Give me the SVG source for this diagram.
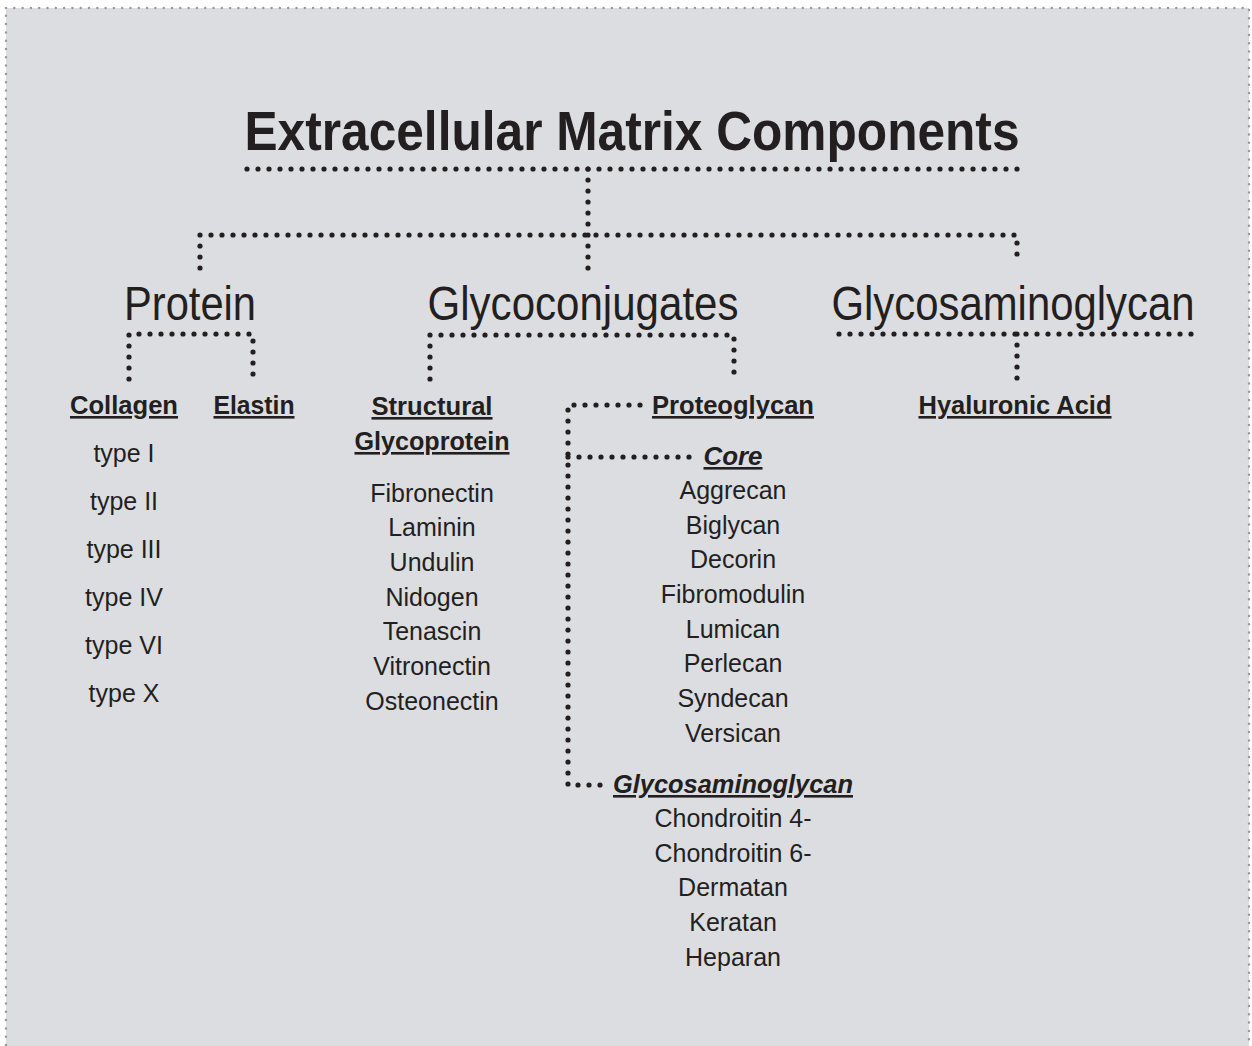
<svg xmlns="http://www.w3.org/2000/svg" width="1252" height="1046" viewBox="0 0 1252 1046">
<style>
text{font-family:"Liberation Sans","Arial",sans-serif;fill:#231f20;text-anchor:middle}
.t{font-weight:bold;font-size:55px}
.c{font-size:48px}
.h{font-weight:bold;font-size:26px;text-decoration:underline}
.hi{font-weight:bold;font-style:italic;font-size:26px;text-decoration:underline}
.i{font-size:25px}
.dot{fill:none;stroke:#231f20;stroke-width:5.2;stroke-linecap:round;stroke-dasharray:0 11}
</style>
<rect x="0" y="0" width="1252" height="1046" fill="#ffffff"/>
<rect x="6" y="8" width="1243" height="1060" fill="#dcdde0" stroke="#9a9a9a" stroke-width="2.5" stroke-linecap="round" stroke-dasharray="0 8.3"/>
<g id="connectors">
<path class="dot" d="M247 169 H1020"/>
<path class="dot" d="M588 169 V274"/>
<path class="dot" d="M200 268 V235 H1017 V265"/>
<path class="dot" d="M129 379 V334 H253 V378"/>
<path class="dot" d="M430 379 V335 H734 V378"/>
<path class="dot" d="M640 405 H568 V785 H603"/>
<path class="dot" d="M568 457 H695"/>
<path class="dot" d="M839 334 H1194"/>
<path class="dot" d="M1017 334 V382"/>
</g>
<g id="title"><text class="t" x="632" y="150" textLength="775" lengthAdjust="spacingAndGlyphs">Extracellular Matrix Components</text></g>
<g id="protein"><text class="c" x="190" y="320" textLength="132" lengthAdjust="spacingAndGlyphs">Protein</text></g>
<g id="glycoconjugates"><text class="c" x="583" y="320" textLength="311" lengthAdjust="spacingAndGlyphs">Glycoconjugates</text></g>
<g id="glycosaminoglycan"><text class="c" x="1013" y="320" textLength="363" lengthAdjust="spacingAndGlyphs">Glycosaminoglycan</text></g>
<g id="collagen">
<text class="h" x="124" y="414" textLength="108" lengthAdjust="spacingAndGlyphs">Collagen</text>
<text class="i" x="124" y="462">type I</text>
<text class="i" x="124" y="510">type II</text>
<text class="i" x="124" y="558">type III</text>
<text class="i" x="124" y="606">type IV</text>
<text class="i" x="124" y="654">type VI</text>
<text class="i" x="124" y="702">type X</text>
</g>
<g id="elastin"><text class="h" x="254" y="414" textLength="81" lengthAdjust="spacingAndGlyphs">Elastin</text></g>
<g id="structural">
<text class="h" x="432" y="415" textLength="121" lengthAdjust="spacingAndGlyphs">Structural</text>
<text class="h" x="432" y="450" textLength="155" lengthAdjust="spacingAndGlyphs">Glycoprotein</text>
<text class="i" x="432" y="502">Fibronectin</text>
<text class="i" x="432" y="536">Laminin</text>
<text class="i" x="432" y="571">Undulin</text>
<text class="i" x="432" y="606">Nidogen</text>
<text class="i" x="432" y="640">Tenascin</text>
<text class="i" x="432" y="675">Vitronectin</text>
<text class="i" x="432" y="710">Osteonectin</text>
</g>
<g id="proteoglycan"><text class="h" x="733" y="414" textLength="162" lengthAdjust="spacingAndGlyphs">Proteoglycan</text></g>
<g id="core">
<text class="hi" x="733" y="465" textLength="59" lengthAdjust="spacingAndGlyphs">Core</text>
<text class="i" x="733" y="499">Aggrecan</text>
<text class="i" x="733" y="534">Biglycan</text>
<text class="i" x="733" y="568">Decorin</text>
<text class="i" x="733" y="603">Fibromodulin</text>
<text class="i" x="733" y="638">Lumican</text>
<text class="i" x="733" y="672">Perlecan</text>
<text class="i" x="733" y="707">Syndecan</text>
<text class="i" x="733" y="742">Versican</text>
</g>
<g id="gag">
<text class="hi" x="733" y="793" textLength="240" lengthAdjust="spacingAndGlyphs">Glycosaminoglycan</text>
<text class="i" x="733" y="827">Chondroitin 4-</text>
<text class="i" x="733" y="862">Chondroitin 6-</text>
<text class="i" x="733" y="896">Dermatan</text>
<text class="i" x="733" y="931">Keratan</text>
<text class="i" x="733" y="966">Heparan</text>
</g>
<g id="hyaluronic"><text class="h" x="1015" y="414" textLength="193" lengthAdjust="spacingAndGlyphs">Hyaluronic Acid</text></g>
</svg>
